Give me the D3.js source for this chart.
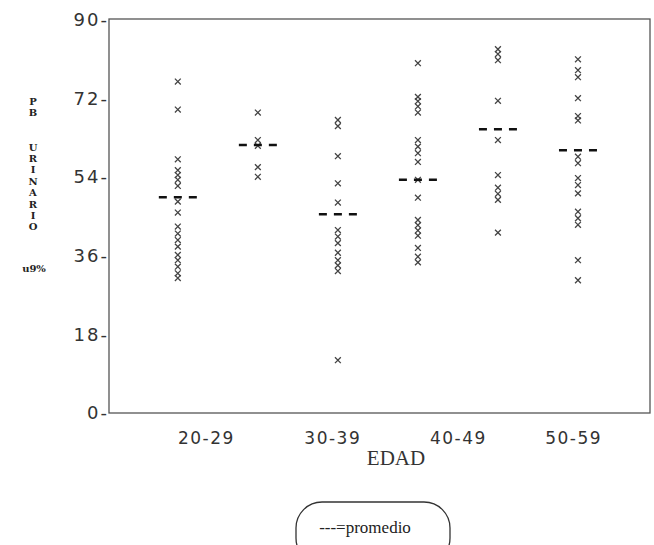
<!DOCTYPE html>
<html>
<head>
<meta charset="utf-8">
<script src="https://cdn.jsdelivr.net/npm/d3@7"></script>
<style>
  body { margin: 0; background: #fff; }
  svg { display: block; }
</style>
</head>
<body>
<div id="chart"></div>
<script>
// columns of points (1..6) and the age labels under the axis
var columns = [1, 2, 3, 4, 5, 6];
var ageLabels = ["20-29", "30-39", "40-49", "50-59"];
var labelPos = [1.35, 2.93, 4.5, 5.94];
var yTicks = [0, 18, 36, 54, 72, 90];

// PB urinario values per column
var col1 = [75.9, 69.5, 58.1, 55.6, 54.5, 53.4, 52.0, 48.4, 45.9, 42.7, 41.1, 39.6, 38.1, 36.2, 35.0, 33.5, 32.0, 30.9];
var col2 = [68.8, 62.5, 61.2, 56.3, 54.1];
var col3 = [67.1, 65.7, 58.8, 52.6, 48.2, 41.9, 40.4, 38.9, 36.7, 35.0, 33.8, 32.5, 12.1];
var col4 = [80.1, 72.4, 71.4, 70.2, 68.8, 62.5, 61.0, 59.5, 57.5, 53.4, 49.3, 44.2, 43.0, 41.8, 40.6, 37.8, 35.8, 34.5];
var col5 = [83.3, 82.2, 80.8, 71.5, 62.5, 54.5, 51.6, 50.2, 48.8, 41.3];
var col6 = [81.0, 78.5, 76.9, 72.1, 68.0, 67.0, 58.7, 57.2, 53.8, 52.2, 50.3, 46.1, 44.6, 43.1, 35.0, 30.4];
// promedio (mean) per column
var means = [49.4, 61.4, 45.5, 53.4, 65.0, 60.2];

var allCols = [col1, col2, col3, col4, col5, col6];

var width = 654, height = 545;
var margin = {top: 20, right: 4, bottom: 132, left: 109};

var x = d3.scaleLinear()
    .domain([0.14, 6.9])
    .range([margin.left, width - margin.right]);

var y = d3.scaleLinear()
    .domain([0, 90])
    .range([height - margin.bottom, margin.top]);

var svg = d3.select("#chart").append("svg")
    .attr("width", width)
    .attr("height", height);

// frame
svg.append("rect")
    .attr("x", x.range()[0])
    .attr("y", y(90) - 1)
    .attr("width", x.range()[1] - x.range()[0])
    .attr("height", y(0) - y(90) + 1)
    .attr("fill", "none")
    .attr("stroke", "#555")
    .attr("stroke-width", 1.3);

// y axis labels like "90-"
var yAxis = d3.axisLeft(y)
    .tickValues(yTicks)
    .tickSize(0)
    .tickPadding(0)
    .tickFormat(function(d) { return d + "-"; });

var gy = svg.append("g")
    .attr("transform", "translate(" + margin.left + ",0)")
    .call(yAxis);
gy.select(".domain").remove();
gy.selectAll("text")
    .attr("font-family", "'DejaVu Sans', sans-serif")
    .attr("font-size", 18)
    .attr("letter-spacing", 2)
    .attr("fill", "#333");

// x axis labels
var xAxis = d3.axisBottom(x)
    .tickValues(labelPos)
    .tickSize(0)
    .tickPadding(19)
    .tickFormat(function(d, i) { return ageLabels[i]; });

var gx = svg.append("g")
    .attr("transform", "translate(0," + y(0) + ")")
    .call(xAxis);
gx.select(".domain").remove();
gx.selectAll("text")
    .attr("font-family", "'DejaVu Sans', sans-serif")
    .attr("font-size", 17)
    .attr("letter-spacing", 1.5)
    .attr("fill", "#333");

svg.append("text")
    .attr("x", 396)
    .attr("y", 465)
    .attr("text-anchor", "middle")
    .attr("font-family", "'Liberation Serif', serif")
    .attr("font-size", 21)
    .attr("fill", "#333")
    .text("EDAD");

// vertical y title
var yTitle = ["P", "B", "", "", "U", "R", "I", "N", "A", "R", "I", "O"];
svg.append("g").selectAll("text")
    .data(yTitle.map(function(t, i) { return {t: t, i: i}; }).filter(function(d) { return d.t; }))
    .enter().append("text")
    .attr("x", 33)
    .attr("y", function(d) { return 105 + d.i * 11.4; })
    .attr("text-anchor", "middle")
    .attr("font-family", "'DejaVu Serif', serif")
    .attr("font-weight", "bold")
    .attr("font-size", 10)
    .attr("fill", "#222")
    .text(function(d) { return d.t; });
svg.append("text")
    .attr("x", 34)
    .attr("y", 272)
    .attr("text-anchor", "middle")
    .attr("font-family", "'DejaVu Serif', serif")
    .attr("font-weight", "bold")
    .attr("font-size", 10)
    .attr("fill", "#222")
    .text("u9%");

// points
var pts = [];
allCols.forEach(function(vals, i) {
  vals.forEach(function(v) { pts.push({col: columns[i], value: v}); });
});

var xSym = d3.symbol().type(d3.symbolX).size(24);

svg.append("g").selectAll("path")
    .data(pts)
    .enter().append("path")
    .attr("transform", function(d) { return "translate(" + x(d.col) + "," + y(d.value) + ")"; })
    .attr("d", xSym)
    .attr("fill", "none")
    .attr("stroke", "#444")
    .attr("stroke-width", 1.3);

// mean dashes
svg.append("g").selectAll("line")
    .data(means)
    .enter().append("line")
    .attr("x1", function(d, i) { return x(columns[i]) - 19; })
    .attr("x2", function(d, i) { return x(columns[i]) + 20; })
    .attr("y1", function(d) { return y(d); })
    .attr("y2", function(d) { return y(d); })
    .attr("stroke", "#111")
    .attr("stroke-width", 2.5)
    .attr("stroke-dasharray", "8,7");

// legend
svg.append("rect")
    .attr("x", 296)
    .attr("y", 502)
    .attr("width", 154)
    .attr("height", 62)
    .attr("rx", 26)
    .attr("fill", "none")
    .attr("stroke", "#333")
    .attr("stroke-width", 1.3);

svg.append("text")
    .attr("x", 365)
    .attr("y", 533)
    .attr("text-anchor", "middle")
    .attr("font-family", "'Liberation Serif', serif")
    .attr("font-size", 17)
    .attr("fill", "#222")
    .text("---=promedio");
</script>
</body>
</html>
